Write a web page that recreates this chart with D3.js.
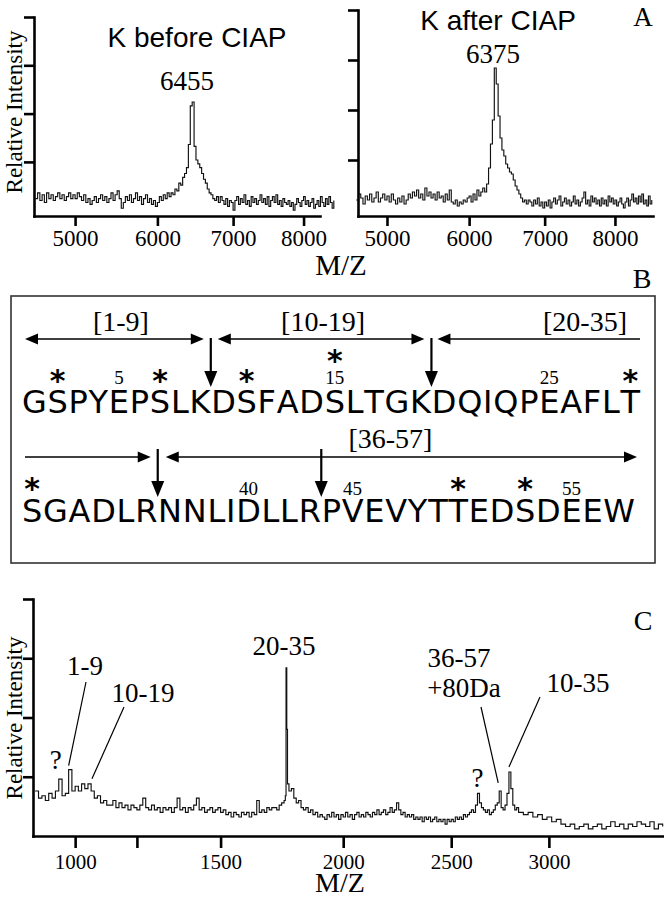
<!DOCTYPE html>
<html>
<head>
<meta charset="utf-8">
<script src="https://cdnjs.cloudflare.com/ajax/libs/d3/7.8.5/d3.min.js"></script>
<style>
body { margin: 0; background: #fff; }
svg { display: block; }
.trace { fill: none; stroke: #111; stroke-width: 1.15; }
</style>
</head>
<body>
<svg width="664" height="899"></svg>
<script>
// ---- panel A, before CIAP ----
var beforeMz = [4550,4575,4600,4625,4650,4675,4700,4725,4750,4775,
  4800,4825,4850,4875,4900,4925,4950,4975,5000,5025,
  5050,5075,5100,5125,5150,5175,5200,5225,5250,5275,
  5300,5325,5350,5375,5400,5425,5450,5475,5500,5525,
  5550,5575,5600,5625,5650,5675,5700,5725,5750,5775,
  5800,5825,5850,5875,5900,5925,5950,5975,6000,6025,
  6050,6075,6100,6125,6150,
  6175,6200,6225,6250,6275,6300,6325,6350,6375,6400,6425,6450,6475,6500,6525,6550,6575,6600,6625,6650,6675,6700,6725,6750,6775,
  6800,6825,6850,6875,6900,6925,6950,6975,7000,7025,
  7050,7075,7100,7125,7150,7175,7200,7225,7250,7275,
  7300,7325,7350,7375,7400,7425,7450,7475,7500,7525,
  7550,7575,7600,7625,7650,7675,7700,7725,7750,7775,
  7800,7825,7850,7875,7900,7925,7950,7975,8000,8025,
  8050,8075,8100,8125,8150,8175,8200,8225,8250,8275,
  8300,8325,8350,8375,8400,8425,8450];
var beforeInt = [6,9,5,8,4,9,6,8,5,7,
  9,6,8,5,7,9,6,8,6,9,
  7,5,8,4,6,3,5,7,4,6,
  8,5,7,4,6,9,5,8,10,6,
  1,4,7,5,8,4,6,9,5,7,
  3,6,8,4,6,3,5,2,4,7,
  5,8,6,9,7,
  9,8,11,10,14,13,17,19,22,34,54,56,33,26,24,22,19,16,14,11,9,8,6,5,7,
  4,7,5,3,6,2,5,4,0,5,
  7,3,6,4,8,3,5,2,7,4,
  6,3,5,8,4,6,3,7,2,5,
  7,4,8,3,5,2,6,4,3,5,
  2,4,0,3,6,4,2,5,7,3,
  5,2,4,6,1,3,5,2,7,4,
  2,6,3,7,4,1,5];

// ---- panel A, after CIAP ----
var afterMz = [4650,4675,4700,4725,4750,4775,4800,4825,4850,4875,
  4900,4925,4950,4975,5000,5025,5050,5075,5100,5125,
  5150,5175,5200,5225,5250,5275,5300,5325,5350,5375,
  5400,5425,5450,5475,5500,5525,5550,5575,5600,5625,
  5650,5675,5700,5725,5750,5775,5800,5825,5850,5875,
  5900,5925,5950,5975,6000,6025,6050,6075,6100,6125,
  6150,
  6175,6200,6225,6250,6275,6300,6325,6350,6375,6400,6425,6450,6475,6500,6525,6550,6575,6600,6625,6650,6675,6700,6725,
  6750,6775,6800,6825,6850,6875,6900,6925,6950,6975,
  7000,7025,7050,7075,7100,7125,7150,7175,7200,7225,
  7250,7275,7300,7325,7350,7375,7400,7425,7450,7475,
  7500,7525,7550,7575,7600,7625,7650,7675,7700,7725,
  7750,7775,7800,7825,7850,7875,7900,7925,7950,7975,
  8000,8025,8050,8075,8100,8125,8150,8175,8200,8225,
  8250,8275,8300,8325,8350,8375,8400,8425,8450,8475,
  8500,8525,8550];
var afterInt = [5,8,6,3,7,5,8,4,6,9,
  4,6,8,5,7,4,8,5,3,6,
  4,7,3,5,8,6,9,7,10,6,
  8,5,11,7,9,6,8,5,9,6,
  7,4,8,5,10,4,3,5,2,4,
  3,5,4,6,7,4,8,5,10,7,
  9,
  11,9,13,21,33,45,71,63,47,36,30,27,23,21,19,18,15,12,10,8,6,4,5,
  3,5,4,2,5,3,6,2,4,1,
  4,2,5,1,4,6,3,5,7,2,
  4,6,3,5,2,4,7,3,5,2,
  4,6,9,3,5,2,7,4,6,3,
  5,2,6,3,5,2,7,4,6,3,
  5,2,4,6,3,1,4,6,2,5,
  8,4,6,3,7,4,8,3,5,2,
  7,3,5];

var panelATicks = [5000, 6000, 7000, 8000];
var intensityTicks = [25, 50, 75, 100];

// ---- panel C, digest ----
var digestMz = [880,890,900,910,920,930,940,950,960,970,980,990,1000,1010,1020,1030,1040,1050,1060,1070,1080,1090,1100,
  1110,1120,1130,1140,1150,1160,1170,1180,1190,1200,
  1210,1220,1230,1240,1250,1260,1270,1280,1290,1300,
  1310,1320,1330,1340,1350,1360,1370,1380,1390,1400,
  1410,1420,1430,1440,1450,1460,1470,1480,1490,1500,
  1510,1520,1530,1540,1550,1560,1570,1580,1590,1600,
  1610,1620,1630,1640,1650,1660,1670,1680,1690,1700,
  1710,1720,1730,1740,1750,1755,1758,1761,1764,1770,1780,1790,1800,1810,1820,
  1830,1840,1850,1860,1870,1880,1890,1900,1910,1920,
  1930,1940,1950,1960,1970,1980,1990,2000,2010,2020,
  2030,2040,2050,2060,2070,2080,2090,2100,2110,2120,
  2130,2140,2150,2160,2170,2180,2190,2200,2210,2220,
  2230,2240,2250,2260,2270,2280,2290,2300,2310,2320,
  2330,2340,2350,2360,2370,2380,2390,2400,2410,2420,
  2430,2440,2450,2460,2470,2480,2490,2500,2510,2520,
  2530,2540,2550,2560,
  2570,2580,2590,2600,2610,2620,2630,2640,2650,2660,2670,2680,2690,2700,2710,2720,2730,2740,2750,2760,
  2770,2780,2790,2800,2810,2820,2830,2840,
  2865,2890,2915,2940,2965,2990,3015,3040,3065,3090,3115,3140,3165,3190,3215,3240,3265,3290,3315,3340,
  3365,3390,3415,3440,3465,3490,3515,3540,3565,3590,3615,3640];
var digestInt = [19,16,17,15,18,16,19,24,17,18,28,19,21,19,22,20,22,19,16,17,14,15,13,
  13,15,12,14,12,13,11,13,12,11,
  13,16,12,11,13,11,12,10,12,11,
  12,10,12,16,11,12,10,12,11,13,
  16,11,12,10,11,12,10,11,12,10,
  11,9,10,8,10,9,8,10,9,10,
  8,10,9,15,10,11,10,12,11,12,
  12,11,13,14,15,17,71,45,22,19,20,16,14,15,12,
  11,12,10,11,9,10,8,9,8,7,
  9,8,10,8,9,7,9,8,10,8,
  9,7,9,10,8,9,8,10,9,8,
  10,9,11,9,10,11,9,10,12,10,
  11,14,11,9,10,8,9,8,9,7,
  8,7,8,6,8,7,8,6,7,8,
  6,7,6,7,5,7,6,7,6,8,
  7,8,7,9,
  8,9,10,11,10,13,18,14,12,11,10,11,9,10,11,13,14,19,12,11,
  13,18,27,20,13,11,12,10,
  9,10,8,9,7,8,6,7,5,4,5,3,4,5,3,4,5,3,4,6,
  4,5,3,5,4,6,5,4,6,3,5,4];

var digestTicks = [1000, 1200, 1500, 2000, 2500, 3000];

// ---- panel B, sequence ----
var row1 = "GSPYEPSLKDSFADSLTGKDQIQPEAFLT";
var row2 = "SGADLRNNLIDLLRPVEVYTTEDSDEEW";
var phosphoSites = [2, 7, 11, 15, 29, 30, 50, 53];
var numberedSites = [5, 15, 25, 40, 45, 55];
var cleavageAfter = [9, 19, 35, 43];
var fragmentLabels = ["[1-9]", "[10-19]", "[20-35]", "[36-57]"];

var svg = d3.select("svg");
var serif = '"Liberation Serif", "Times New Roman", serif';
var sans = '"Liberation Sans", Arial, sans-serif';
var seqFont = '"DejaVu Sans", sans-serif';

function pairs(mz, inten) {
  return mz.map(function(m, i) { return [m, inten[i]]; });
}

function text(x, y, str, size, family, anchor) {
  return svg.append("text")
    .attr("x", x).attr("y", y)
    .attr("text-anchor", anchor || "middle")
    .style("font-family", family || serif)
    .style("font-size", size + "px")
    .text(str);
}

function spectrum(x, y, data, ticks, fmt, tickSize, pad, fontSize) {
  var line = d3.line()
    .x(function(d) { return x(d[0]); })
    .y(function(d) { return y(d[1]); })
    .curve(d3.curveStepAfter);

  svg.append("path").datum(data).attr("class", "trace").attr("d", line);

  var xa = svg.append("g")
    .attr("transform", "translate(0," + y.range()[0] + ")")
    .call(d3.axisBottom(x).tickValues(ticks).tickFormat(fmt)
      .tickSize(tickSize).tickSizeOuter(0).tickPadding(pad));
  var ya = svg.append("g")
    .attr("transform", "translate(" + x.range()[0] + ",0)")
    .call(d3.axisLeft(y).tickValues(intensityTicks).tickFormat("")
      .tickSize(10).tickSizeOuter(0));

  [xa, ya].forEach(function(a) {
    a.select(".domain").attr("stroke-width", 2.6).attr("stroke-linecap", "square");
    a.selectAll(".tick line").attr("stroke-width", 2.6);
    a.selectAll("text").style("font-family", serif).style("font-size", fontSize + "px").attr("fill", "#000");
  });
}

function yLabel(cx, cy) {
  svg.append("text")
    .attr("transform", "translate(" + cx + "," + cy + ") rotate(-90)")
    .attr("text-anchor", "middle")
    .style("font-family", serif)
    .style("font-size", "23px")
    .text("Relative Intensity");
}

// ===== Panel A =====
var xBefore = d3.scaleSqrt().domain([4535, 8243]).range([34, 320]);
var yBefore = d3.scaleLinear().domain([-3, 100]).range([216, 17]);
spectrum(xBefore, yBefore, pairs(beforeMz, beforeInt), panelATicks, d3.format("d"), 10, 4, 23);

var xAfter = d3.scaleSqrt().domain([4669, 8569]).range([358, 653]);
var yAfter = d3.scaleLinear().domain([-3, 100]).range([216, 10]);
spectrum(xAfter, yAfter, pairs(afterMz, afterInt), panelATicks, d3.format("d"), 10, 4, 23);

yLabel(22, 112);
text(197, 47, "K before CIAP", 28, sans);
text(187, 90, "6455", 27);
text(498, 30, "K after CIAP", 28, sans);
text(493, 63, "6375", 27);
text(341, 275, "M/Z", 29);
text(643, 26, "A", 27);

// ===== Panel B =====
svg.append("rect")
  .attr("x", 11).attr("y", 296).attr("width", 644).attr("height", 267)
  .attr("fill", "none").attr("stroke", "#333").attr("stroke-width", 1.6);
text(642, 288, "B", 28);

var residues = [];
var rows = [
  { seq: row1, first: 1, left: 22, right: 640, base: 413, hy: 339, vtop: 338, tip: 387, lab: 331, num: 384, star: 391 },
  { seq: row2, first: 30, left: 22, right: 635, base: 522, hy: 457, vtop: 449, tip: 497, lab: 448, num: 495, star: 499 }
];

rows.forEach(function(r, ri) {
  var g = svg.append("g").style("font-family", seqFont).style("font-size", "32px");
  var letters = g.selectAll("text").data(r.seq.split("")).enter().append("text")
    .attr("y", r.base).text(function(d) { return d; });
  var w = [];
  letters.each(function() { w.push(this.getComputedTextLength()); });
  var gap = (r.right - r.left - d3.sum(w)) / (w.length - 1);
  letters.attr("x", function(d, i) {
    var x0 = r.left + d3.sum(w.slice(0, i)) + gap * i;
    residues[r.first + i] = { x0: x0, x1: x0 + w[i], cx: x0 + w[i] / 2, row: ri };
    return x0;
  });
});

function head(x, y, dir) {
  // dir: "l", "r", "d"
  var p;
  if (dir === "l") p = [[x, y], [x + 13, y - 5.5], [x + 13, y + 5.5]];
  else if (dir === "r") p = [[x, y], [x - 13, y - 5.5], [x - 13, y + 5.5]];
  else p = [[x, y], [x - 6.5, y - 16], [x + 6.5, y - 16]];
  svg.append("path").attr("d", "M" + p.join("L") + "Z").attr("fill", "#000");
}

function hArrow(y, xa, xb, headA, headB) {
  svg.append("line")
    .attr("x1", xa + (headA ? 10 : 0)).attr("x2", xb - (headB ? 10 : 0))
    .attr("y1", y).attr("y2", y)
    .attr("stroke", "#000").attr("stroke-width", 1.4);
  if (headA) head(xa, y, "l");
  if (headB) head(xb, y, "r");
}

var cut = cleavageAfter.map(function(c) {
  return (residues[c].x1 + residues[c + 1].x0) / 2;
});

// vertical cleavage arrows
cleavageAfter.forEach(function(c, i) {
  var r = rows[residues[c].row];
  svg.append("line")
    .attr("x1", cut[i]).attr("x2", cut[i])
    .attr("y1", r.vtop).attr("y2", r.tip - 12)
    .attr("stroke", "#000").attr("stroke-width", 2.2);
  head(cut[i], r.tip, "d");
});

// fragment arrows
var rowLeft = 25;
hArrow(rows[0].hy, rowLeft, cut[0] - 7, true, true);
hArrow(rows[0].hy, cut[0] + 7, cut[1] - 7, true, true);
hArrow(rows[0].hy, cut[1] + 6, 640, true, false);
hArrow(rows[1].hy, rowLeft, cut[2] - 7, false, true);
hArrow(rows[1].hy, cut[2] + 8, 637, true, true);

text((rowLeft + cut[0]) / 2 + 3, rows[0].lab, fragmentLabels[0], 28);
text((cut[0] + cut[1]) / 2 + 2, rows[0].lab, fragmentLabels[1], 28);
text(627, rows[0].lab, fragmentLabels[2], 28, serif, "end");
text((cut[2] + 637) / 2 - 7, rows[1].lab, fragmentLabels[3], 28);

numberedSites.forEach(function(n) {
  var r = rows[residues[n].row];
  text(residues[n].cx, r.num, String(n), 19);
});

phosphoSites.forEach(function(n) {
  var r = rows[residues[n].row];
  var lift = numberedSites.indexOf(n) >= 0 ? 20 : 0;
  text(residues[n].cx, r.star - lift, "*", 30, seqFont).style("font-weight", "bold");
});

// ===== Panel C =====
var xDigest = d3.scaleSqrt().domain([874, 3642]).range([33, 663]);
var yDigest = d3.scaleLinear().domain([0, 100]).range([836, 599]);
spectrum(xDigest, yDigest, pairs(digestMz, digestInt), digestTicks,
  function(d) { return d % 500 === 0 ? d : ""; }, 12, 6, 21);

yLabel(22, 718);
text(340, 892, "M/Z", 28);
text(643, 630, "C", 28);

function leader(x1, y1, mz, val, dx, dy) {
  svg.append("line")
    .attr("x1", x1).attr("y1", y1)
    .attr("x2", xDigest(mz) + dx).attr("y2", yDigest(val) - dy)
    .attr("stroke", "#000").attr("stroke-width", 1.2);
}

text(xDigest(950) - 3, 769, "?", 27);
text(85, 675, "1-9", 27);
leader(86, 682, 980, 28, 0, 4);
text(143, 702, "10-19", 27);
leader(124, 707, 1040, 22, 4, 5);
text(284, 655, "20-35", 27);
text(459, 667, "36-57", 27);
text(464, 697, "+80Da", 27);
leader(481, 707, 2740, 19, -1, 8);
text(578, 692, "10-35", 27);
leader(540, 697, 2790, 27, 0, 5);
text(xDigest(2630), 787, "?", 27);
</script>
</body>
</html>
